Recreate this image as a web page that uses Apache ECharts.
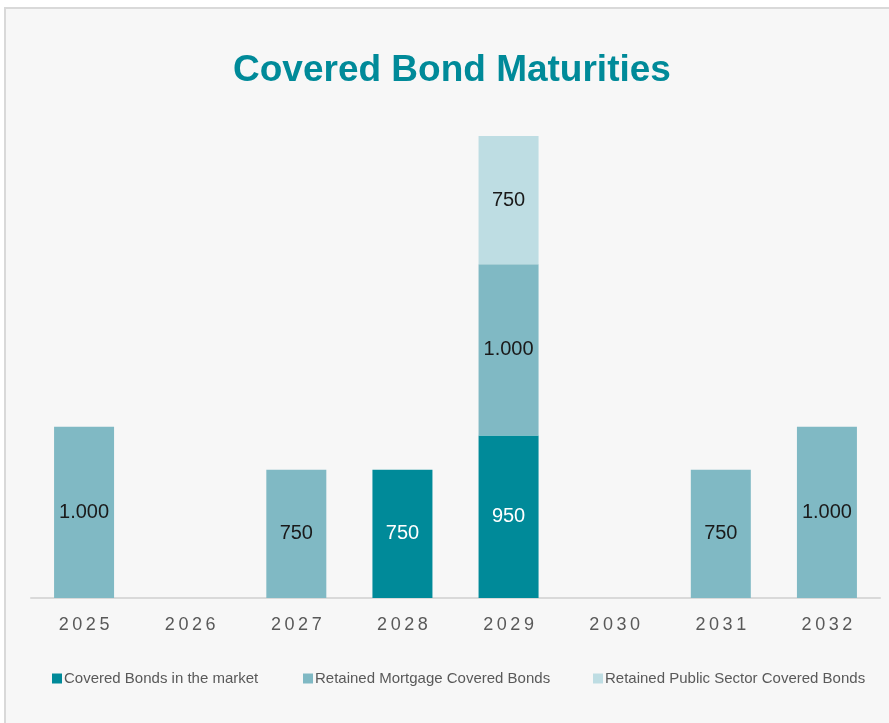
<!DOCTYPE html>
<html>
<head>
<meta charset="utf-8">
<script src="https://cdn.jsdelivr.net/npm/echarts@6/dist/echarts.min.js"></script>
<style>
html,body{margin:0;padding:0;background:#ffffff;}
#chart{width:889px;height:723px;}
</style>
</head>
<body>
<div id="chart"></div>
<script>
var categories = ['2025','2026','2027','2028','2029','2030','2031','2032'];
var marketValues = [null, null, null, 750, 950, null, null, null];
var mortgageValues = [1000, null, 750, null, 1000, null, 750, 1000];
var publicValues = [null, null, null, null, 750, null, null, null];
var seriesNames = ['Covered Bonds in the market', 'Retained Mortgage Covered Bonds', 'Retained Public Sector Covered Bonds'];
var colors = ['#008a99', '#80b9c4', '#bedde3'];
var labelColors = ['#ffffff', '#1a1a1a', '#1a1a1a'];
var legendLefts = [47, 298, 588];

var FONT = '"Liberation Sans Narrow","Arial Narrow","Liberation Sans",Arial,sans-serif';

function fmt(v) {
  var s = String(Math.round(v));
  return s.replace(/\B(?=(\d{3})+(?!\d))/g, '.');
}
function spaced(s) { return s.split('').join('\u2009'); }

var dataSets = [marketValues, mortgageValues, publicValues];
var series = dataSets.map(function (d, i) {
  return {
    name: seriesNames[i],
    type: 'bar',
    stack: 'total',
    data: d,
    barWidth: 60,
    itemStyle: { color: colors[i] },
    label: {
      show: true,
      position: 'inside',
      color: labelColors[i],
      fontFamily: FONT,
      fontSize: 20,
      formatter: function (p) { return p.value == null ? '' : fmt(p.value); }
    },
    emphasis: { disabled: true }
  };
});

var legends = seriesNames.map(function (n, i) {
  return {
    top: 666,
    left: legendLefts[i],
    itemWidth: 10,
    itemHeight: 10,
    icon: 'rect',
    selectedMode: false,
    textStyle: { color: '#595959', fontFamily: FONT, fontSize: 15, padding: [0, 0, 0, -3] },
    data: [n]
  };
});

var chart = echarts.init(document.getElementById('chart'));
chart.setOption({
  backgroundColor: 'transparent',
  animation: false,
  graphic: [{
    type: 'rect', z: -10, silent: true,
    shape: { x: 5, y: 8, width: 900, height: 760 },
    style: { fill: '#f7f7f7', stroke: '#d9d9d9', lineWidth: 2 }
  }],
  title: {
    text: 'Covered Bond Maturities',
    left: 228,
    top: 47,
    textStyle: { color: '#008a99', fontFamily: FONT, fontWeight: 'bold', fontSize: 37 }
  },
  legend: legends,
  grid: { left: 31, right: 9, top: 100, bottom: 125, containLabel: false },
  xAxis: {
    type: 'category',
    data: categories,
    axisLine: { lineStyle: { color: '#d9d9d9', width: 2 } },
    axisTick: { show: false },
    axisLabel: {
      color: '#595959', fontFamily: FONT, fontSize: 18, margin: 18,
      formatter: function (v) { return spaced(v); }
    }
  },
  yAxis: {
    type: 'value',
    min: 0,
    max: 2910,
    show: false,
    splitLine: { show: false }
  },
  series: series
});
</script>
</body>
</html>
